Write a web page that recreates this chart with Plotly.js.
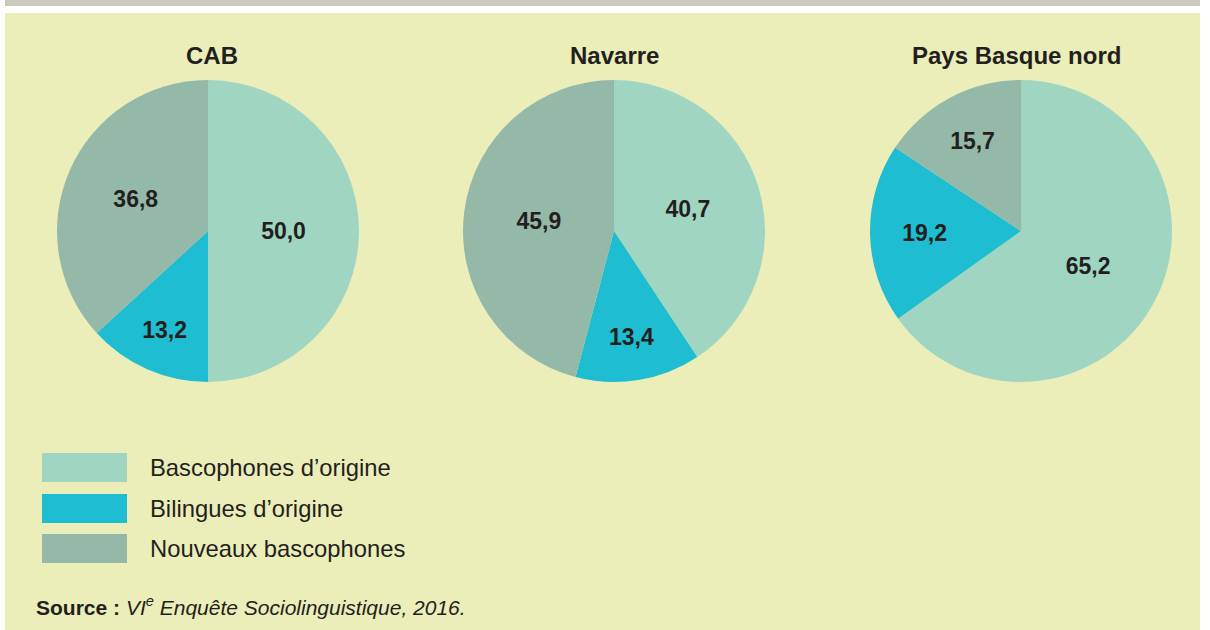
<!DOCTYPE html>
<html>
<head>
<meta charset="utf-8">
<script src="https://cdn.plot.ly/plotly-3.0.1.min.js"></script>
<style>html,body{margin:0;padding:0;background:#fff;}#chart{width:1210px;height:630px;}</style>
</head>
<body>
<div id="chart"></div>
<script>
const categories = ["Bascophones d’origine", "Bilingues d’origine", "Nouveaux bascophones"];
const regions = ["CAB", "Navarre", "Pays Basque nord"];
const valuesCAB = [50.0, 13.2, 36.8];
const valuesNavarre = [40.7, 13.4, 45.9];
const valuesPBN = [65.2, 19.2, 15.7];
const colors = ["#a0d6c1", "#1ebdd1", "#95b9a8"];
const sourceText = "<b>Source :</b> <i>VI<sup>e</sup> Enquête Sociolinguistique, 2016.</i>";

const W = 1210, H = 630;
const allValues = [valuesCAB, valuesNavarre, valuesPBN];
const pieX = [[57, 359], [463, 765], [870, 1172]];
const pieY = [80, 382];
const titleX = [212, 614, 1016];

const font = "Liberation Sans, Arial, sans-serif";
const traces = allValues.map((vals, i) => ({
  type: "pie",
  labels: categories,
  values: vals,
  sort: false,
  direction: "clockwise",
  rotation: 0,
  marker: {colors: colors, line: {width: 0}},
  texttemplate: "%{value:.1f}",
  textposition: "inside",
  insidetextorientation: "horizontal",
  textfont: {family: font, size: 23, color: "#231f20", weight: "bold"},
  hoverinfo: "none",
  showlegend: false,
  domain: {x: [pieX[i][0] / W, pieX[i][1] / W], y: [1 - pieY[1] / H, 1 - pieY[0] / H]}
}));

const shapes = [
  {type: "rect", xref: "paper", yref: "paper", x0: 5 / W, x1: 1200 / W, y0: 0, y1: 1 - 13 / H, fillcolor: "#ebeeb9", line: {width: 0}, layer: "below"},
  {type: "rect", xref: "paper", yref: "paper", x0: 5 / W, x1: 1200 / W, y0: 1 - 6 / H, y1: 1, fillcolor: "#ccc8bc", line: {width: 0}, layer: "below"}
];
const annotations = [];
regions.forEach((r, i) => {
  annotations.push({text: "<b>" + r + "</b>", x: titleX[i] / W, y: 1 - 55 / H, xref: "paper", yref: "paper",
    showarrow: false, xanchor: "center", yanchor: "middle", font: {family: font, size: 24, color: "#231f20"}});
});
const legTop = [453, 494, 534];
categories.forEach((c, i) => {
  shapes.push({type: "rect", xref: "paper", yref: "paper", x0: 42 / W, x1: 127 / W,
    y0: 1 - (legTop[i] + 29) / H, y1: 1 - legTop[i] / H, fillcolor: colors[i], line: {width: 0}});
  annotations.push({text: c, x: 148 / W, y: 1 - (legTop[i] + 14.5) / H, xref: "paper", yref: "paper",
    showarrow: false, xanchor: "left", yanchor: "middle", font: {family: font, size: 23.8, color: "#231f20"}});
});
annotations.push({text: sourceText, x: 34 / W, y: 1 - 606 / H, xref: "paper", yref: "paper",
  showarrow: false, xanchor: "left", yanchor: "middle", font: {family: font, size: 21, color: "#231f20"}});

Plotly.newPlot("chart", traces, {
  width: W, height: H,
  margin: {l: 0, r: 0, t: 0, b: 0},
  paper_bgcolor: "#ffffff",
  separators: ", ",
  shapes: shapes,
  annotations: annotations
}, {displayModeBar: false, staticPlot: true});
</script>
</body>
</html>
